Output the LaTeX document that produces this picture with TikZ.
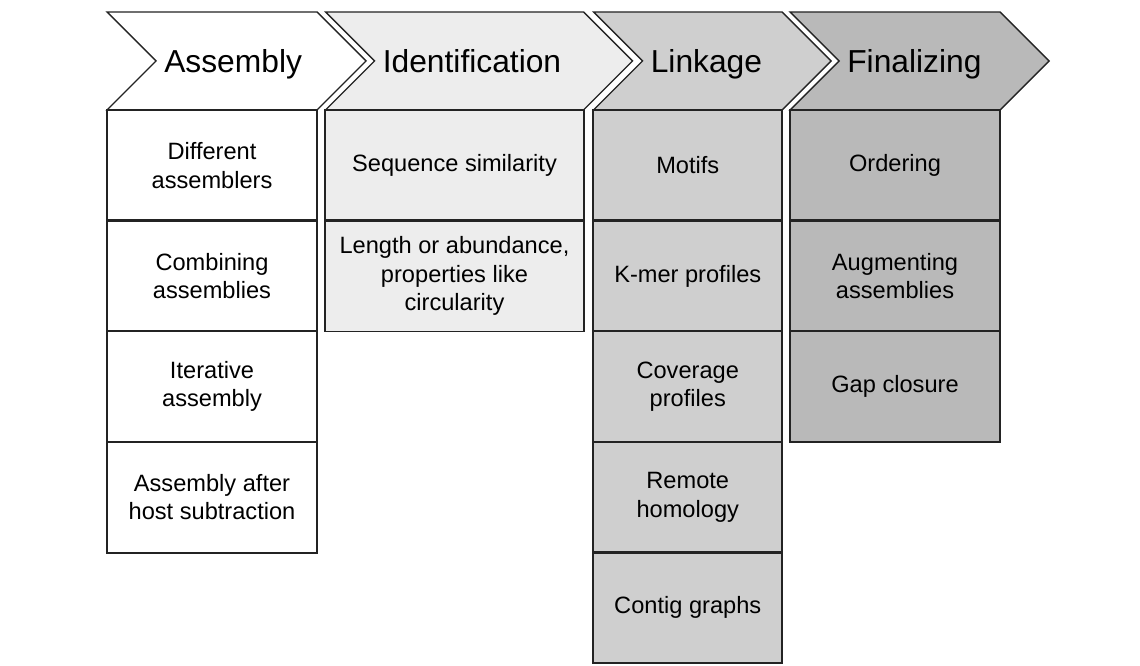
\documentclass[tikz,border=0pt]{standalone}
\usepackage{fontspec}
\setmainfont{Liberation Sans}
\usetikzlibrary{positioning}
\definecolor{asmfill}{RGB}{255,255,255}
\definecolor{identfill}{RGB}{237,237,237}
\definecolor{linkfill}{RGB}{207,207,207}
\definecolor{finfill}{RGB}{185,185,185}
\definecolor{edge}{RGB}{35,35,35}

\begin{document}
\begin{tikzpicture}[
		chevron/.style={draw=edge, line width=1pt, line join=miter},
		header/.style={anchor=west, inner sep=0.2cm, text height=16.5pt, text depth=4.7pt,
			font=\fontsize{22.6}{26}\selectfont},
		stepbox/.style={align=center, inner sep=0pt, minimum height=2.765cm,
			font=\fontsize{16.8}{20.3}\selectfont},
		asmbox/.style={stepbox, fill=asmfill, minimum width=5.25cm},
		identbox/.style={stepbox, fill=identfill, minimum width=6.45cm},
		linkbox/.style={stepbox, fill=linkfill, minimum width=4.7125cm},
		finbox/.style={stepbox, fill=finfill, minimum width=5.25cm},
		boxline/.style={draw=edge, line width=1.3pt}
	]
		\useasboundingbox (0,0) rectangle (28.5,16.625);

		% Header chevrons
		\draw[chevron, fill=asmfill] (2.675,16.325) -- (7.925,16.325) -- (9.15,15.1) -- (7.925,13.875) -- (2.675,13.875) -- (3.9,15.1) -- cycle;
		\draw[chevron, fill=identfill] (8.1375,16.325) -- (14.5875,16.325) -- (15.8125,15.1) -- (14.5875,13.875) -- (8.1375,13.875) -- (9.3625,15.1) -- cycle;
		\draw[chevron, fill=linkfill] (14.8375,16.325) -- (19.55,16.325) -- (20.775,15.1) -- (19.55,13.875) -- (14.8375,13.875) -- (16.0625,15.1) -- cycle;
		\draw[chevron, fill=finfill] (19.75,16.325) -- (25,16.325) -- (26.225,15.1) -- (25,13.875) -- (19.75,13.875) -- (20.975,15.1) -- cycle;

		\node[header] (asmhead) at (3.9, 15.02) {Assembly};
		\node[header] (identhead) at (9.3625, 15.02) {Identification};
		\node[header] (linkhead) at (16.0625, 15.02) {Linkage};
		\node[header] (finhead) at (20.975, 15.02) {Finalizing};

		% Assembly column
		\node[asmbox] (asm1) at (5.3, 12.4925) {Different\\assemblers};
		\node[asmbox] (asm2) at (5.3, 9.7275) {Combining\\assemblies};
		\node[asmbox] (asm3) at (5.3, 6.9625) {Iterative\\assembly};
		\node[asmbox] (asm4) at (5.3, 4.1975) {Assembly after\\host subtraction};

		% Identification column
		\node[identbox] (ident1) at (11.3625, 12.4925) {Sequence similarity};
		\node[identbox] (ident2) at (11.3625, 9.7275) {Length or abundance,\\properties like\\circularity};

		% Linkage column
		\node[linkbox] (link1) at (17.19375, 12.4925) {Motifs};
		\node[linkbox] (link2) at (17.19375, 9.7275) {K-mer profiles};
		\node[linkbox] (link3) at (17.19375, 6.9625) {Coverage\\profiles};
		\node[linkbox] (link4) at (17.19375, 4.1975) {Remote\\homology};
		\node[linkbox] (link5) at (17.19375, 1.4325) {Contig graphs};

		% Finalizing column
		\node[finbox] (fin1) at (22.375, 12.4925) {Ordering};
		\node[finbox] (fin2) at (22.375, 9.7275) {Augmenting\\assemblies};
		\node[finbox] (fin3) at (22.375, 6.9625) {Gap closure};

		% Box outlines on top of the fills
		\foreach \b in {asm1,asm2,asm3,asm4,ident1,ident2,link1,link2,link3,link4,link5,fin1,fin2,fin3}
			\draw[boxline] (\b.north west) rectangle (\b.south east);
	\end{tikzpicture}
\end{document}
